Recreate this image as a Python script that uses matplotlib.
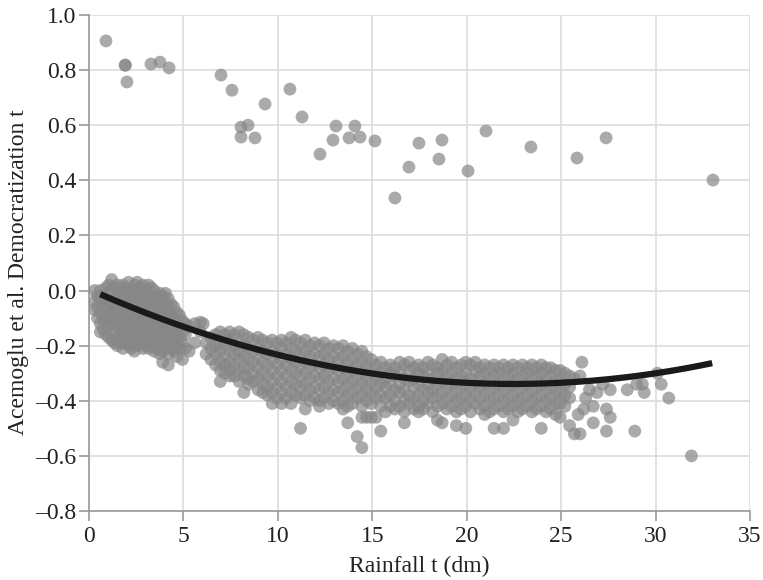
import matplotlib
matplotlib.use("Agg")
import matplotlib.pyplot as plt
import numpy as np

# ---------------- data ----------------
# isolated high observations (rainfall dm, democratization)
high_rain = [0.90, 1.91, 1.93, 2.01, 3.28, 3.76, 4.24, 6.99, 7.57, 8.05, 8.42, 8.05, 8.79,
             9.32, 10.64, 11.28, 12.23, 13.08, 12.92, 13.77, 14.08, 14.35, 15.14, 16.20,
             16.94, 17.47, 18.53, 18.69, 20.07, 21.02, 23.40, 25.84, 27.38, 33.04]
high_demo = [0.906, 0.818, 0.818, 0.757, 0.822, 0.829, 0.808, 0.782, 0.727, 0.593, 0.600,
             0.557, 0.554, 0.677, 0.731, 0.630, 0.495, 0.597, 0.546, 0.554, 0.597, 0.557,
             0.543, 0.336, 0.448, 0.535, 0.477, 0.546, 0.434, 0.579, 0.521, 0.481, 0.554, 0.401]

# main cloud, columns: rainfall -> democratization values
cloud_west = {
    0.30: [0.00, -0.04, -0.07],
    0.45: [-0.02, -0.06, -0.10],
    0.60: [0.00, -0.03, -0.08, -0.12, -0.15],
    0.75: [-0.02, -0.05, -0.10, -0.14],
    0.90: [0.01, -0.03, -0.07, -0.11, -0.16],
    1.05: [0.02, -0.04, -0.09, -0.13, -0.17],
    1.20: [0.04, 0.00, -0.05, -0.08, -0.12, -0.18],
    1.35: [0.01, -0.03, -0.07, -0.11, -0.15, -0.19],
    1.50: [0.02, -0.02, -0.06, -0.10, -0.13, -0.17, -0.20],
    1.65: [0.00, -0.04, -0.08, -0.12, -0.16, -0.19],
    1.80: [0.02, -0.01, -0.05, -0.09, -0.14, -0.18, -0.21],
    1.95: [0.01, -0.03, -0.07, -0.11, -0.15, -0.19],
    2.10: [0.03, -0.01, -0.05, -0.09, -0.12, -0.16, -0.20],
    2.25: [0.00, -0.04, -0.08, -0.13, -0.17, -0.21],
    2.40: [0.02, -0.02, -0.06, -0.10, -0.14, -0.18, -0.22],
    2.55: [0.03, -0.01, -0.05, -0.09, -0.12, -0.16, -0.20],
    2.70: [0.01, -0.03, -0.07, -0.11, -0.15, -0.19],
    2.85: [0.02, -0.02, -0.06, -0.10, -0.14, -0.18, -0.21],
    3.00: [0.00, -0.04, -0.08, -0.12, -0.16, -0.20],
    3.15: [0.02, -0.02, -0.06, -0.10, -0.13, -0.17, -0.21],
    3.30: [0.01, -0.03, -0.07, -0.11, -0.15, -0.19],
    3.45: [0.00, -0.04, -0.08, -0.12, -0.16, -0.20, -0.22],
    3.60: [-0.02, -0.05, -0.09, -0.13, -0.17, -0.21],
    3.75: [-0.01, -0.04, -0.08, -0.12, -0.16, -0.20, -0.23],
    3.90: [-0.02, -0.06, -0.10, -0.14, -0.18, -0.22, -0.26],
    4.05: [-0.01, -0.05, -0.09, -0.13, -0.17, -0.21],
    4.20: [-0.03, -0.07, -0.11, -0.15, -0.19, -0.23, -0.27],
    4.35: [-0.05, -0.09, -0.13, -0.17, -0.21],
    4.50: [-0.06, -0.10, -0.14, -0.18, -0.22],
    4.65: [-0.08, -0.12, -0.16, -0.20, -0.24],
    4.80: [-0.09, -0.13, -0.17, -0.21],
    4.95: [-0.11, -0.15, -0.19, -0.25],
    5.10: [-0.12, -0.16, -0.21],
    5.30: [-0.13, -0.22],
    5.60: [-0.12, -0.19],
    5.90: [-0.115, -0.15],
    6.05: [-0.12],
}
cloud_mid = {
    6.20: [-0.19, -0.23],
    6.45: [-0.17, -0.21, -0.25],
    6.70: [-0.16, -0.20, -0.23, -0.27],
    6.95: [-0.15, -0.19, -0.22, -0.26, -0.29, -0.33],
    7.20: [-0.16, -0.20, -0.24, -0.27, -0.30],
    7.45: [-0.15, -0.18, -0.22, -0.26, -0.29, -0.31],
    7.70: [-0.16, -0.20, -0.23, -0.27, -0.31],
    7.95: [-0.15, -0.19, -0.22, -0.25, -0.29, -0.33],
    8.20: [-0.16, -0.20, -0.24, -0.28, -0.31, -0.37],
    8.45: [-0.17, -0.21, -0.25, -0.28, -0.32, -0.34],
    8.70: [-0.18, -0.22, -0.26, -0.30, -0.33],
    8.95: [-0.17, -0.21, -0.24, -0.28, -0.32, -0.36],
    9.20: [-0.18, -0.22, -0.26, -0.30, -0.34, -0.37],
    9.45: [-0.19, -0.23, -0.27, -0.31, -0.35, -0.38],
    9.70: [-0.18, -0.22, -0.25, -0.29, -0.33, -0.37, -0.41],
    9.95: [-0.19, -0.23, -0.27, -0.31, -0.35, -0.39],
    10.20: [-0.18, -0.21, -0.25, -0.29, -0.33, -0.37, -0.41],
    10.45: [-0.19, -0.23, -0.27, -0.31, -0.35, -0.39],
    10.70: [-0.17, -0.21, -0.25, -0.29, -0.33, -0.37, -0.41],
    10.95: [-0.18, -0.22, -0.26, -0.30, -0.34, -0.38],
    11.20: [-0.19, -0.23, -0.27, -0.31, -0.35, -0.39, -0.50],
    11.45: [-0.18, -0.22, -0.26, -0.30, -0.34, -0.38, -0.43],
    11.70: [-0.20, -0.24, -0.28, -0.32, -0.36, -0.40],
    11.95: [-0.19, -0.23, -0.27, -0.31, -0.35, -0.39],
    12.20: [-0.20, -0.24, -0.28, -0.32, -0.36, -0.40, -0.42],
    12.45: [-0.19, -0.23, -0.27, -0.31, -0.35, -0.39],
    12.70: [-0.21, -0.25, -0.29, -0.33, -0.37, -0.41],
    12.95: [-0.20, -0.24, -0.28, -0.32, -0.36, -0.40],
    13.20: [-0.21, -0.25, -0.29, -0.33, -0.37, -0.41],
    13.45: [-0.20, -0.24, -0.28, -0.32, -0.36, -0.40, -0.43],
    13.70: [-0.22, -0.26, -0.30, -0.34, -0.38, -0.42, -0.48],
    13.95: [-0.21, -0.25, -0.29, -0.33, -0.37, -0.41],
    14.20: [-0.23, -0.27, -0.31, -0.35, -0.39, -0.53],
    14.45: [-0.22, -0.26, -0.30, -0.34, -0.38, -0.42, -0.46, -0.57],
    14.70: [-0.24, -0.28, -0.32, -0.36, -0.40, -0.46],
    14.95: [-0.25, -0.29, -0.33, -0.37, -0.41, -0.46],
    15.20: [-0.27, -0.31, -0.35, -0.39, -0.46],
}
cloud_east = {
    15.45: [-0.26, -0.30, -0.34, -0.38, -0.42, -0.51],
    15.70: [-0.28, -0.32, -0.35, -0.39, -0.44],
    15.95: [-0.27, -0.30, -0.34, -0.38, -0.42],
    16.20: [-0.28, -0.31, -0.36, -0.40, -0.43],
    16.45: [-0.26, -0.30, -0.34, -0.37, -0.42],
    16.70: [-0.27, -0.32, -0.36, -0.40, -0.44, -0.48],
    16.95: [-0.26, -0.29, -0.33, -0.38, -0.41],
    17.20: [-0.28, -0.32, -0.35, -0.39, -0.43],
    17.45: [-0.27, -0.30, -0.34, -0.38, -0.42, -0.44],
    17.70: [-0.28, -0.31, -0.36, -0.40, -0.43],
    17.95: [-0.26, -0.30, -0.34, -0.37, -0.41],
    18.20: [-0.27, -0.32, -0.36, -0.39, -0.44],
    18.45: [-0.28, -0.30, -0.34, -0.38, -0.42, -0.47],
    18.70: [-0.25, -0.29, -0.33, -0.37, -0.41, -0.48],
    18.95: [-0.27, -0.31, -0.35, -0.39, -0.43],
    19.20: [-0.26, -0.30, -0.34, -0.38, -0.42],
    19.45: [-0.28, -0.32, -0.36, -0.40, -0.44, -0.49],
    19.70: [-0.27, -0.31, -0.35, -0.39, -0.43],
    19.95: [-0.26, -0.30, -0.34, -0.38, -0.42, -0.50],
    20.20: [-0.27, -0.32, -0.36, -0.40, -0.44],
    20.45: [-0.26, -0.29, -0.33, -0.37, -0.41],
    20.70: [-0.28, -0.31, -0.35, -0.39, -0.43],
    20.95: [-0.27, -0.30, -0.34, -0.38, -0.42, -0.45],
    21.20: [-0.28, -0.32, -0.36, -0.40, -0.44],
    21.45: [-0.27, -0.31, -0.35, -0.39, -0.43, -0.50],
    21.70: [-0.28, -0.30, -0.34, -0.38, -0.42],
    21.95: [-0.27, -0.32, -0.36, -0.40, -0.44, -0.50],
    22.20: [-0.28, -0.31, -0.35, -0.39, -0.43],
    22.45: [-0.27, -0.30, -0.34, -0.38, -0.42, -0.47],
    22.70: [-0.28, -0.32, -0.36, -0.40, -0.44],
    22.95: [-0.27, -0.31, -0.35, -0.39, -0.43],
    23.20: [-0.28, -0.30, -0.34, -0.38, -0.42],
    23.45: [-0.27, -0.32, -0.36, -0.40, -0.44],
    23.70: [-0.28, -0.31, -0.35, -0.39, -0.43],
    23.95: [-0.27, -0.30, -0.34, -0.38, -0.42, -0.50],
    24.20: [-0.28, -0.32, -0.36, -0.40, -0.44],
    24.45: [-0.28, -0.31, -0.35, -0.39, -0.43],
    24.70: [-0.29, -0.33, -0.37, -0.41, -0.45],
    24.95: [-0.29, -0.33, -0.37, -0.41, -0.46],
    25.20: [-0.30, -0.34, -0.38, -0.42],
    25.45: [-0.31, -0.35, -0.39, -0.49],
    25.70: [-0.32, -0.52],
}
# sparse tail
tail_rain = [26.1, 26.0, 26.5, 26.9, 27.6, 27.2, 28.5, 29.3, 29.0, 29.4, 30.1, 30.3, 30.7,
             26.7, 27.4, 27.6, 26.2, 26.7, 27.4, 28.9, 26.0, 31.9, 26.3, 25.9]
tail_demo = [-0.26, -0.31, -0.36, -0.37, -0.36, -0.34, -0.36, -0.34, -0.34, -0.37, -0.30,
             -0.34, -0.39, -0.42, -0.43, -0.46, -0.43, -0.48, -0.51, -0.51, -0.52, -0.60,
             -0.39, -0.45]

# quadratic fit coefficients: intercept, linear, squared
fit_coef = [0.0048, -0.0306, 0.000681]
fit_range = [0.6, 33.0]

y_ticks = [-0.8, -0.6, -0.4, -0.2, 0.0, 0.2, 0.4, 0.6, 0.8, 1.0]
x_ticks = [0, 5, 10, 15, 20, 25, 30, 35]

# ---------------- assemble ----------------
xs, ys = list(high_rain), list(high_demo)
for cols in (cloud_west, cloud_mid, cloud_east):
    for xv, yl in cols.items():
        xs += [xv] * len(yl)
        ys += yl
xs += tail_rain
ys += tail_demo

plt.rcParams['font.family'] = ['Liberation Serif', 'DejaVu Serif']

fig = plt.figure(figsize=(7.63, 5.80), dpi=100)
ax = fig.add_axes([89/763, 1-511/580, (750-89)/763, (511-15)/580])

ax.scatter(xs, ys, s=85, color='#878787', alpha=0.70, edgecolors='none', zorder=3)

xf = np.linspace(fit_range[0], fit_range[1], 200)
yf = fit_coef[0] + fit_coef[1]*xf + fit_coef[2]*xf**2
ax.plot(xf, yf, color='#1a1a1a', lw=4.5, solid_capstyle='butt', zorder=4)

ax.set_xlim(0, 35)
ax.set_ylim(-0.8, 1.0)
ax.set_xticks(x_ticks)
ax.set_yticks(y_ticks)
ax.set_yticklabels([f"{v:.1f}".replace('-', '\u2013') for v in y_ticks])
ax.grid(True, color='#dcdcdc', lw=1.2, zorder=0)
ax.set_axisbelow(True)
for s in ('top', 'right'):
    ax.spines[s].set_visible(False)
for s in ('left', 'bottom'):
    ax.spines[s].set_color('#9a9a9a')
    ax.spines[s].set_linewidth(1.2)
ax.tick_params(axis='both', length=7, width=1.2, color='#9a9a9a', labelsize=17,
               labelcolor='#222222', pad=2)
ax.tick_params(axis='x', pad=4)
ax.set_xlabel('Rainfall t (dm)', fontsize=17, color='#222222', labelpad=6)
ax.set_ylabel('Acemoglu et al. Democratization t', fontsize=17, color='#222222')
ax.yaxis.set_label_coords(-0.091, 0.482)

fig.savefig('out.png', dpi=100)
